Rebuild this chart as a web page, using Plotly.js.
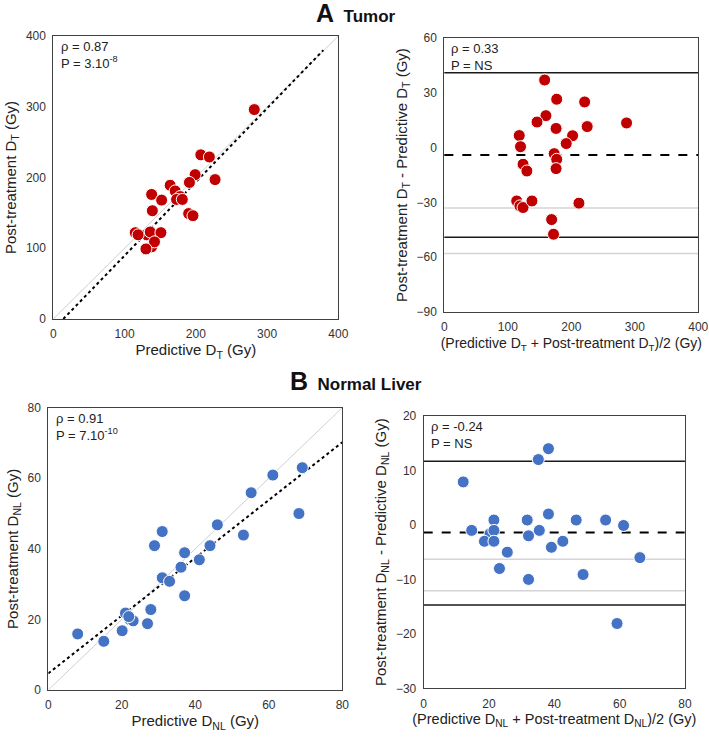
<!DOCTYPE html>
<html>
<head>
<meta charset="utf-8">
<script src="https://cdn.plot.ly/plotly-3.0.1.min.js"></script>
<style>html,body{margin:0;padding:0;background:#fff}#chart{width:709px;height:738px}</style>
</head>
<body>
<div id="chart"></div>
<script>
// ---- Panel A (Tumor): correlation ----
const tumorPred = [131, 138, 282, 207, 219, 227, 199, 191, 164, 171, 178, 173, 181, 138, 152, 139, 190, 196, 115, 119, 136, 151, 142, 130];
const tumorPost = [119, 102, 296, 232, 229, 197, 204, 193, 189, 181, 173, 169, 169, 176, 168, 153, 149, 146, 122, 119, 123, 122, 109, 99];
const tumorIdentityX = [0, 400];
const tumorIdentityY = [0, 400];
const tumorTrendX = [14, 379];
const tumorTrendY = [0, 380];

// ---- Panel A (Tumor): Bland-Altman ----
const tumorMean = [114, 158, 177, 221, 160, 146, 287, 176, 225, 202, 192, 118, 120, 173, 177, 124, 130, 176, 119, 124, 138, 212, 169, 172];
const tumorDiff = [-29.2, 37, 26.5, 25, 17.5, 14, 13.5, 10.5, 11.5, 6.5, 2.2, 6.6, 0.5, -3.3, -6.4, -9.1, -12.8, -11.5, -31.9, -32.8, -29.2, -30.4, -39.4, -47.4];
const tumorBiasLine = [-4];
const tumorLimitLines = [41, -49];
const tumorCILines = [-33, -58];

// ---- Panel B (Normal liver): correlation ----
const liverPred = [22.2, 69.1, 61.1, 55.2, 68.2, 46, 53.1, 31, 28.9, 44, 37.1, 41.1, 36.1, 31, 33, 37.1, 27.9, 21, 23.1, 21.9, 27, 20.1, 8, 15.1];
const liverPost = [20, 63, 60.9, 55.9, 50, 46.8, 43.9, 44.9, 40.9, 40.9, 38.9, 36.9, 34.8, 31.8, 30.8, 26.7, 22.8, 21.8, 19.6, 20.8, 18.8, 16.8, 15.9, 13.8];
const liverIdentityX = [0, 80];
const liverIdentityY = [0, 80];
const liverTrendX = [0, 80];
const liverTrendY = [4.7, 70.2];

// ---- Panel B (Normal liver): Bland-Altman ----
const liverMean = [20.3, 38.2, 35.1, 12.1, 21.5, 31.7, 38.2, 46.7, 55.7, 61.2, 14.7, 21.5, 35.4, 18.6, 21.5, 32.1, 39.1, 42.6, 25.6, 66.2, 23.2, 32.1, 48.8, 59.2];
const liverDiff = [-1.6, 14, 12, 7.9, 0.9, 0.9, 2, 0.9, 0.9, -0.1, -1, -1, -1, -3, -3, -2, -4.1, -3, -5, -6, -8, -10, -9.1, -18.1];
const liverBiasLine = [-1.4];
const liverLimitLines = [11.7, -14.7];
const liverCILines = [-6.3, -12.1];

const FONT = 'Liberation Sans, Arial, sans-serif';
const RED = '#C00000';
const BLUE = '#4472C4';

function markers(color) {
  return {size: 12, color: color, line: {color: '#ffffff', width: 1}};
}

const traces = [
  {x: tumorIdentityX, y: tumorIdentityY, xaxis: 'x', yaxis: 'y', mode: 'lines', line: {color: '#cfcfcf', width: 1}, hoverinfo: 'skip'},
  {x: tumorTrendX, y: tumorTrendY, xaxis: 'x', yaxis: 'y', mode: 'lines', line: {color: '#000', width: 2, dash: 'dot'}},
  {x: tumorPred, y: tumorPost, xaxis: 'x', yaxis: 'y', mode: 'markers', marker: markers(RED)},
  {x: tumorMean, y: tumorDiff, xaxis: 'x2', yaxis: 'y2', mode: 'markers', marker: markers(RED)},
  {x: liverIdentityX, y: liverIdentityY, xaxis: 'x3', yaxis: 'y3', mode: 'lines', line: {color: '#cfcfcf', width: 1}, hoverinfo: 'skip'},
  {x: liverTrendX, y: liverTrendY, xaxis: 'x3', yaxis: 'y3', mode: 'lines', line: {color: '#000', width: 2, dash: 'dot'}},
  {x: liverPred, y: liverPost, xaxis: 'x3', yaxis: 'y3', mode: 'markers', marker: markers(BLUE)},
  {x: liverMean, y: liverDiff, xaxis: 'x4', yaxis: 'y4', mode: 'markers', marker: markers(BLUE)}
];

function hline(ax, val, color, width, dash) {
  return {type: 'line', xref: ax.x + ' domain', yref: ax.y, x0: 0, x1: 1, y0: val, y1: val,
          line: {color: color, width: width, dash: dash || 'solid'}, layer: 'below'};
}
const shapes = [];
const ax2 = {x: 'x2', y: 'y2'}, ax4 = {x: 'x4', y: 'y4'};
tumorCILines.forEach(v => shapes.push(hline(ax2, v, '#d4d4d4', 1.5)));
tumorLimitLines.forEach(v => shapes.push(hline(ax2, v, '#1a1a1a', 1.5)));
tumorBiasLine.forEach(v => shapes.push(hline(ax2, v, '#000', 2, 'dash')));
liverCILines.forEach(v => shapes.push(hline(ax4, v, '#d4d4d4', 1.5)));
liverLimitLines.forEach(v => shapes.push(hline(ax4, v, '#1a1a1a', 1.5)));
liverBiasLine.forEach(v => shapes.push(hline(ax4, v, '#000', 2, 'dash')));

function axis(domain, range, dtick, anchor, title, standoff, titleSize) {
  return {
    domain: domain, range: range, dtick: dtick, tick0: range[0], anchor: anchor,
    showgrid: false, zeroline: false, showline: true, mirror: true,
    linecolor: '#404040', linewidth: 1,
    ticks: 'outside', ticklen: 4, tickcolor: 'rgba(0,0,0,0)', fixedrange: true,
    tickfont: {family: FONT, size: 12, color: '#333'},
    title: {text: title, font: {family: FONT, size: titleSize || 15, color: '#222'}, standoff: standoff}
  };
}

const annFont = {family: FONT, size: 13, color: '#222'};
function stat(xr, yr, lines) {
  return {xref: xr + ' domain', yref: yr + ' domain', x: 0.02, y: 0.995, xanchor: 'left', yanchor: 'top',
          text: lines, showarrow: false, align: 'left', font: annFont};
}

const layout = {
  width: 709, height: 738,
  margin: {l: 0, r: 0, t: 0, b: 0},
  paper_bgcolor: '#fff', plot_bgcolor: '#fff',
  showlegend: false,
  font: {family: FONT},
  xaxis:  axis([0.0752, 0.4772], [0, 400], 100, 'y', 'Predictive D<sub>T</sub> (Gy)', 4),
  yaxis:  axis([0.5678, 0.9512], [0, 400], 100, 'x', 'Post-treatment D<sub>T</sub> (Gy)', 5),
  xaxis2: axis([0.6267, 0.9849], [0, 400], 100, 'y2', '(Predictive D<sub>T</sub> + Post-treatment D<sub>T</sub>)/2 (Gy)', 4, 14),
  yaxis2: axis([0.5772, 0.9485], [-90, 60], 30, 'x2', 'Post-treatment D<sub>T</sub> - Predictive D<sub>T</sub> (Gy)', 5),
  xaxis3: axis([0.0681, 0.4828], [0, 80], 20, 'y3', 'Predictive D<sub>NL</sub> (Gy)', 4),
  yaxis3: axis([0.0650, 0.4476], [0, 80], 20, 'x3', 'Post-treatment D<sub>NL</sub> (Gy)', 5),
  xaxis4: axis([0.5976, 0.9661], [0, 80], 20, 'y4', '(Predictive D<sub>NL</sub> + Post-treatment D<sub>NL</sub>)/2 (Gy)', 4, 14.5),
  yaxis4: axis([0.0673, 0.4363], [-30, 20], 10, 'x4', 'Post-treatment D<sub>NL</sub> - Predictive D<sub>NL</sub> (Gy)', 5),
  shapes: shapes,
  annotations: [
    stat('x', 'y', 'ρ = 0.87<br>P = 3.10<sup>-8</sup>'),
    stat('x2', 'y2', 'ρ = 0.33<br>P = NS'),
    stat('x3', 'y3', 'ρ = 0.91<br>P = 7.10<sup>-10</sup>'),
    stat('x4', 'y4', 'ρ = -0.24<br>P = NS'),
    {xref: 'paper', yref: 'paper', x: 356 / 709, y: 1 - 13 / 738, xanchor: 'center', yanchor: 'middle', showarrow: false,
     text: '<b><span style="font-size:25px">A</span>  Tumor</b>', font: {family: FONT, size: 17, color: '#111'}},
    {xref: 'paper', yref: 'paper', x: 356 / 709, y: 1 - 381 / 738, xanchor: 'center', yanchor: 'middle', showarrow: false,
     text: '<b><span style="font-size:25px">B</span>  Normal Liver</b>', font: {family: FONT, size: 17, color: '#111'}}
  ]
};

Plotly.newPlot('chart', traces, layout, {displayModeBar: false, staticPlot: true});
</script>
</body>
</html>
